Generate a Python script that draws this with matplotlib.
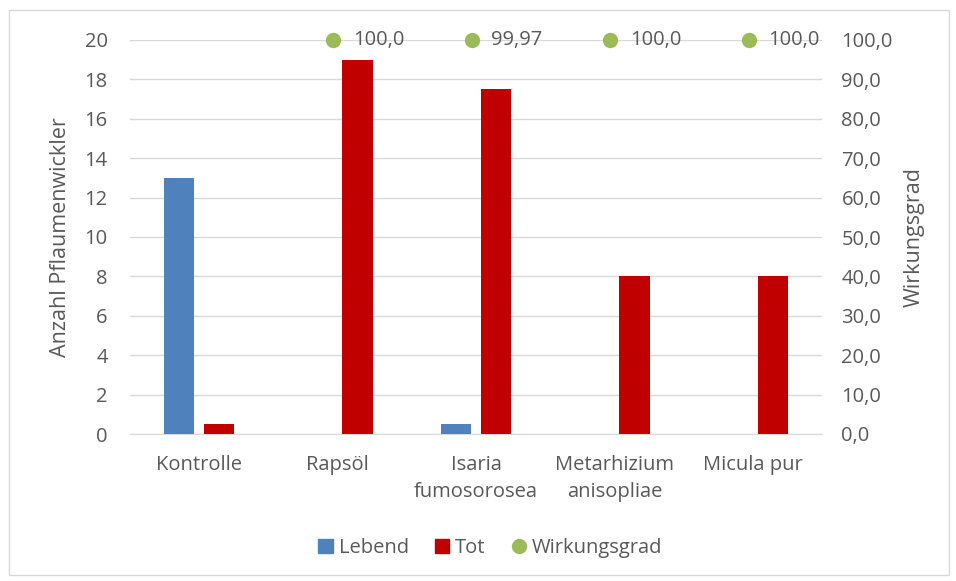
import numpy as np
import matplotlib.pyplot as plt
from matplotlib.patches import Rectangle
from matplotlib.lines import Line2D

categories = ['Kontrolle', 'Rapsöl', 'Isaria\nfumosorosea', 'Metarhizium\nanisopliae', 'Micula pur']
lebend = [13, 0, 0.5, 0, 0]
tot = [0.5, 19, 17.5, 8, 8]
wirkung = [None, 100.0, 99.97, 100.0, 100.0]
wirkung_labels = ['', '100,0', '99,97', '100,0', '100,0']

blue = '#4F81BD'
red = '#C00000'
green = '#9BBB59'
txt = '#595959'
grid = '#D9D9D9'
fs = 14.5

plt.rcParams['font.family'] = ['Open Sans', 'DejaVu Sans']

fig = plt.figure(figsize=(9.56, 5.81), dpi=100)
ax = fig.add_axes([130 / 956, 1 - 434 / 581, 692 / 956, 394 / 581])

x = np.arange(len(categories))
w = 0.22
ax.bar(x - 0.145, lebend, w, color=blue, label='Lebend', zorder=3)
ax.bar(x + 0.145, tot, w, color=red, label='Tot', zorder=3)

ax.set_xlim(-0.5, 4.5)
ax.set_ylim(0, 20)
ax.set_yticks(range(0, 21, 2))
ax.set_xticks(x)
ax.set_xticklabels(categories, fontsize=fs, color=txt, linespacing=1.5)
ax.tick_params(axis='y', labelsize=fs, labelcolor=txt, length=0, pad=16)
ax.tick_params(axis='x', length=0, pad=15)
ax.grid(axis='y', color=grid, linewidth=1, zorder=0)
for s in ['top', 'right', 'left']:
    ax.spines[s].set_visible(False)
ax.spines['bottom'].set_color(grid)
ax.set_ylabel('Anzahl Pflaumenwickler', fontsize=15.5, color=txt, labelpad=10)

ax2 = ax.twinx()
ax2.set_ylim(0, 100)
ax2.set_yticks(range(0, 101, 10))
ax2.set_yticklabels([f'{v},0' for v in range(0, 101, 10)])
ax2.tick_params(axis='y', labelsize=fs, labelcolor=txt, length=0, pad=14)
for s in ['top', 'right', 'left', 'bottom']:
    ax2.spines[s].set_visible(False)
ax2.set_ylabel('Wirkungsgrad', fontsize=15.5, color=txt, labelpad=8)

for xi, v, lab in zip(x, wirkung, wirkung_labels):
    if v is None:
        continue
    ax2.plot(xi - 0.03, v, 'o', color=green, markersize=10, zorder=5, clip_on=False)
    ax2.annotate(lab, (xi - 0.03, v), xytext=(14, 0), textcoords='offset points',
                 va='center', ha='left', fontsize=fs, color=txt)

handles = [Rectangle((0, 0), 1, 1, color=blue), Rectangle((0, 0), 1, 1, color=red),
           Line2D([], [], marker='o', linestyle='', color=green, markersize=10)]
fig.legend(handles, ['Lebend', 'Tot', 'Wirkungsgrad'], loc='center', bbox_to_anchor=(0.513, 1 - 548 / 581),
           ncol=3, frameon=False, fontsize=fs, labelcolor=txt, handlelength=0.7, handletextpad=0.3,
           columnspacing=1.3)

fig.patches.append(Rectangle((9 / 956, 6 / 581), 940 / 956, 565 / 581, transform=fig.transFigure,
                             fill=False, edgecolor=grid, linewidth=1))

fig.savefig('out.png', dpi=100)
